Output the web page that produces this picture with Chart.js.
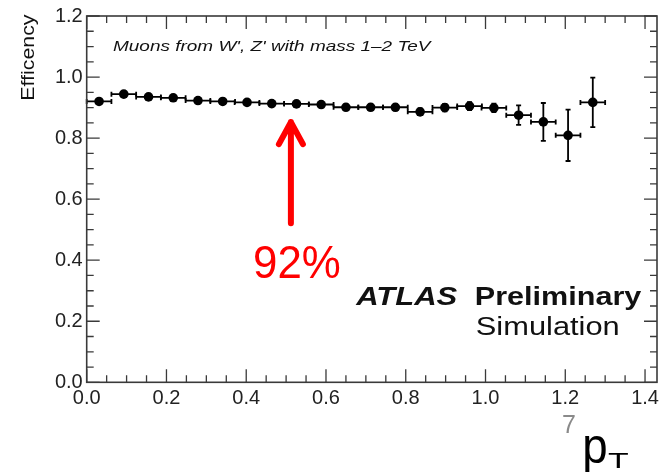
<!DOCTYPE html>
<html>
<head>
<meta charset="utf-8">
<script src="https://cdn.jsdelivr.net/npm/chart.js@4/dist/chart.umd.min.js"></script>
<style>
  html, body { margin: 0; padding: 0; background: #fff; }
  #wrap { width: 667px; height: 472px; position: relative; }
</style>
</head>
<body>
<div id="wrap"><canvas id="c"></canvas></div>
<script>
(function () {
  'use strict';

  // bin centres (x), efficiency and its uncertainty
  const binCenters = [0.031, 0.093, 0.155, 0.217, 0.279, 0.341, 0.402, 0.464, 0.526, 0.588,
                      0.650, 0.712, 0.774, 0.836, 0.898, 0.960, 1.021, 1.083, 1.145, 1.207, 1.269];
  const efficiency = [0.920, 0.944, 0.935, 0.932, 0.923, 0.920, 0.917, 0.913, 0.912, 0.910,
                      0.901, 0.901, 0.901, 0.886, 0.900, 0.905, 0.899, 0.875, 0.853, 0.809, 0.917];
  const effError   = [0.008, 0.008, 0.007, 0.007, 0.007, 0.007, 0.007, 0.007, 0.008, 0.008,
                      0.009, 0.009, 0.010, 0.011, 0.012, 0.013, 0.014, 0.032, 0.062, 0.084, 0.081];
  const binHalfWidth = 0.031;

  const xTickLabels = [0.0, 0.2, 0.4, 0.6, 0.8, 1.0, 1.2, 1.4];
  const yTickLabels = [0.0, 0.2, 0.4, 0.6, 0.8, 1.0, 1.2];

  // arrow marking the 92% level (data coordinates)
  const arrowX = 0.512, arrowFrom = 0.521, arrowTo = 0.859;

  const FONT = '"Liberation Sans", Helvetica, Arial, sans-serif';
  const INK = '#111';
  const FRAME = '#3a3a3a';

  function fitText(ctx, text, x, y, font, color, width) {
    ctx.save();
    ctx.font = font;
    ctx.fillStyle = color;
    ctx.textBaseline = 'alphabetic';
    ctx.textAlign = 'left';
    const m = ctx.measureText(text);
    const ink = m.actualBoundingBoxRight + m.actualBoundingBoxLeft;
    const s = width / ink;
    ctx.translate(x + m.actualBoundingBoxLeft * s, y);
    ctx.scale(s, 1);
    ctx.fillText(text, 0, 0);
    ctx.restore();
  }

  const errorBars = {
    id: 'errorBars',
    beforeDatasetsDraw(chart) {
      const { ctx, scales: { x, y } } = chart;
      ctx.save();
      ctx.strokeStyle = '#000';
      ctx.lineWidth = 1.8;
      binCenters.forEach((c, i) => {
        const px = x.getPixelForValue(c);
        const py = y.getPixelForValue(efficiency[i]);
        const xl = x.getPixelForValue(c - binHalfWidth);
        const xr = x.getPixelForValue(c + binHalfWidth);
        const yt = y.getPixelForValue(efficiency[i] + effError[i]);
        const yb = y.getPixelForValue(efficiency[i] - effError[i]);
        ctx.beginPath();
        ctx.moveTo(xl, py); ctx.lineTo(xr, py);
        ctx.moveTo(xl, py - 2.5); ctx.lineTo(xl, py + 2.5);
        ctx.moveTo(xr, py - 2.5); ctx.lineTo(xr, py + 2.5);
        ctx.moveTo(px, yt); ctx.lineTo(px, yb);
        ctx.moveTo(px - 2.5, yt); ctx.lineTo(px + 2.5, yt);
        ctx.moveTo(px - 2.5, yb); ctx.lineTo(px + 2.5, yb);
        ctx.stroke();
      });
      ctx.restore();
    }
  };

  const decor = {
    id: 'decor',
    afterDraw(chart) {
      const { ctx, chartArea: a, scales: { x, y } } = chart;
      ctx.save();

      // frame + inward ticks (ROOT style)
      ctx.strokeStyle = FRAME;
      ctx.lineWidth = 1.6;
      ctx.strokeRect(a.left, a.top, a.right - a.left, a.bottom - a.top);
      ctx.lineWidth = 1.3;
      ctx.beginPath();
      for (let k = 0; k <= 28; k++) {
        const v = k * 0.05;
        const px = x.getPixelForValue(v);
        const len = k % 4 === 0 ? 13 : 7;
        ctx.moveTo(px, a.bottom); ctx.lineTo(px, a.bottom - len);
        ctx.moveTo(px, a.top); ctx.lineTo(px, a.top + len);
      }
      for (let k = 0; k <= 24; k++) {
        const v = k * 0.05;
        const py = y.getPixelForValue(v);
        const len = k % 4 === 0 ? 13 : 7;
        ctx.moveTo(a.left, py); ctx.lineTo(a.left + len, py);
        ctx.moveTo(a.right, py); ctx.lineTo(a.right - len, py);
      }
      ctx.stroke();

      // y-axis title
      ctx.save();
      ctx.translate(34, 57);
      ctx.rotate(-Math.PI / 2);
      fitText(ctx, 'Efficency', -42.5, 0, '18px ' + FONT, INK, 85);
      ctx.restore();

      // red arrow
      const ax = x.getPixelForValue(arrowX);
      const ay0 = y.getPixelForValue(arrowFrom);
      const ay1 = y.getPixelForValue(arrowTo);
      ctx.strokeStyle = '#ff0000';
      ctx.lineWidth = 6;
      ctx.lineCap = 'round';
      ctx.lineJoin = 'round';
      ctx.beginPath();
      ctx.moveTo(ax, ay0); ctx.lineTo(ax, ay1 + 2);
      ctx.moveTo(ax - 12, ay1 + 24); ctx.lineTo(ax, ay1 + 2); ctx.lineTo(ax + 12, ay1 + 24);
      ctx.stroke();

      // labels
      fitText(ctx, "Muons from W', Z' with mass 1\u20132 TeV", 113, 51, 'italic 15px ' + FONT, INK, 320);
      fitText(ctx, '92%', 255, 278, '46px ' + FONT, '#ff0000', 85);
      fitText(ctx, 'ATLAS', 355, 305, 'italic bold 26px ' + FONT, INK, 103);
      fitText(ctx, 'Preliminary', 476, 305, 'bold 26px ' + FONT, INK, 166);
      fitText(ctx, 'Simulation', 477, 335, '26px ' + FONT, INK, 141);
      fitText(ctx, '7', 563, 433, '25px ' + FONT, '#8a8a8a', 12);
      fitText(ctx, 'p', 585, 463, '50px ' + FONT, '#000', 21);
      fitText(ctx, 'T', 608, 468, '22px ' + FONT, '#000', 20);

      ctx.restore();
    }
  };

  const tickFont = { family: FONT, size: 20 };

  new Chart(document.getElementById('c'), {
    type: 'scatter',
    data: {
      datasets: [{
        label: 'Efficiency',
        data: binCenters.map((c, i) => ({ x: c, y: efficiency[i] })),
        pointRadius: 4.8,
        pointBackgroundColor: '#000',
        pointBorderColor: '#000',
        pointBorderWidth: 0,
        showLine: false,
      }],
    },
    options: {
      responsive: true,
      maintainAspectRatio: false,
      animation: false,
      layout: { padding: { left: 0, right: 10, top: 15, bottom: 0 } },
      plugins: { legend: { display: false }, tooltip: { enabled: false } },
      scales: {
        x: {
          type: 'linear', min: 0, max: 1.43,
          afterBuildTicks: s => { s.ticks = xTickLabels.map(v => ({ value: v })); },
          afterFit: s => { s.height = 89.7; },
          ticks: { callback: v => v.toFixed(1), font: tickFont, color: '#222', padding: 4, maxRotation: 0, autoSkip: false },
          grid: { display: false, drawTicks: false },
          border: { display: false },
        },
        y: {
          type: 'linear', min: 0, max: 1.2,
          afterBuildTicks: s => { s.ticks = yTickLabels.map(v => ({ value: v })); },
          afterFit: s => { s.width = 86.7; },
          ticks: { callback: v => v.toFixed(1), font: tickFont, color: '#222', padding: 4, autoSkip: false },
          grid: { display: false, drawTicks: false },
          border: { display: false },
        },
      },
    },
    plugins: [errorBars, decor],
  });
})();
</script>
</body>
</html>
